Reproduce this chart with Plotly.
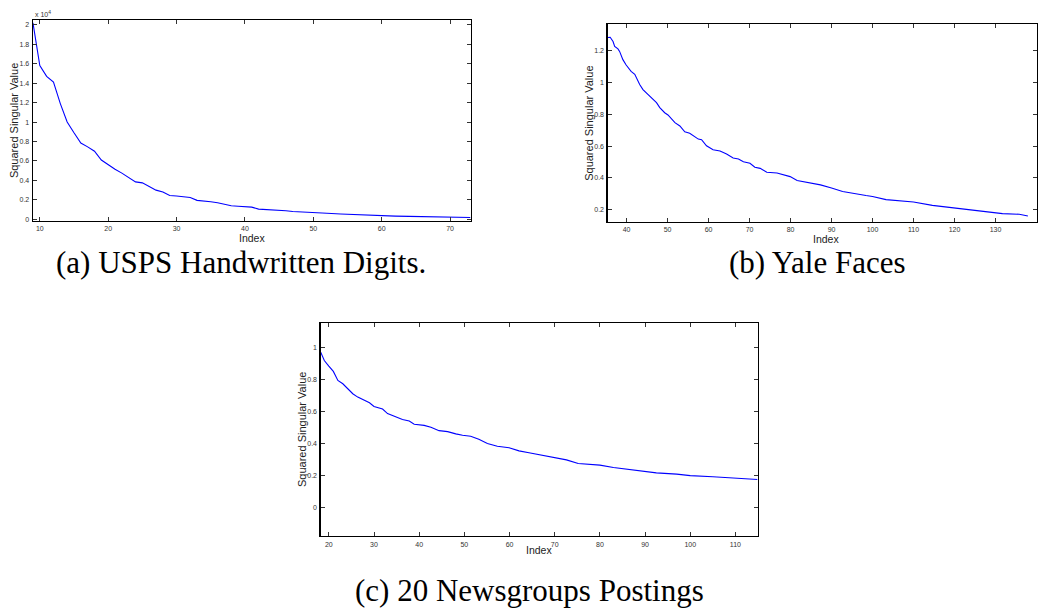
import plotly.graph_objects as go

# ---------------- data ----------------
# (a) USPS Handwritten Digits (values in units of 1e4)
usps_index = [9, 10, 11, 12, 13, 14, 15, 16, 17, 18, 19, 20, 21, 22, 23, 24, 25, 26, 27, 28,
              29, 30, 31, 32, 33, 34, 35, 36, 37, 38, 39, 40, 41, 42, 43, 44, 45, 46, 47, 48,
              50, 52, 54, 56, 58, 60, 62, 64, 66, 68, 70, 72, 73]
usps_value = [2.02, 1.58, 1.47, 1.41, 1.19, 1.00, 0.89, 0.785, 0.745, 0.70, 0.61, 0.56, 0.515,
              0.475, 0.43, 0.385, 0.375, 0.335, 0.30, 0.28, 0.245, 0.24, 0.235, 0.225, 0.195,
              0.19, 0.18, 0.17, 0.155, 0.14, 0.135, 0.13, 0.125, 0.105, 0.102, 0.098, 0.092,
              0.088, 0.08, 0.075, 0.068, 0.062, 0.055, 0.048, 0.042, 0.036, 0.033, 0.03, 0.028,
              0.026, 0.024, 0.02, 0.018]

# (b) Yale Faces
yale_index = [35.4, 36.0, 36.7, 37.1, 37.9, 38.3, 39.1, 39.9, 41.1, 42.0, 43.2, 44.0, 45.2, 47.3,
              48.1, 49.3, 50.1, 51.8, 53.0, 54.2, 55.4, 56.2, 57.5, 58.3, 59.5, 61.1, 62.8, 64.4,
              66.0, 67.3, 68.5, 70.1, 71.3, 72.6, 74.2, 76.7, 79.9, 81.6, 84.0, 87.3, 90.0, 92.7,
              98.4, 100.0, 103.3, 110.0, 114.6, 120.0, 122.8, 127.6, 131.7, 135.8, 137.9]
yale_value = [1.283, 1.285, 1.258, 1.227, 1.212, 1.196, 1.144, 1.11, 1.07, 1.052, 0.988, 0.956,
              0.925, 0.873, 0.842, 0.81, 0.796, 0.748, 0.727, 0.69, 0.681, 0.665, 0.644, 0.64,
              0.602, 0.577, 0.569, 0.55, 0.525, 0.519, 0.502, 0.492, 0.467, 0.46, 0.435, 0.431,
              0.408, 0.383, 0.373, 0.356, 0.336, 0.314, 0.289, 0.283, 0.263, 0.248, 0.227, 0.21,
              0.202, 0.19, 0.175, 0.171, 0.16]

# (c) 20 Newsgroups Postings
news_index = [18.2, 19.0, 20.0, 21.0, 22.0, 23.1, 24.2, 25.3, 26.4, 27.5, 29.0, 30.0, 31.9, 33.0,
              34.5, 36.3, 37.8, 38.9, 41.1, 42.6, 44.4, 46.3, 48.1, 49.6, 51.4, 53.2, 55.1, 57.3,
              59.9, 62.1, 64.3, 66.5, 67.5, 70.0, 72.6, 75.2, 80.0, 83.0, 87.4, 90.0, 92.5, 97.0,
              100.0, 105.0, 110.0, 114.9]
news_value = [0.969, 0.917, 0.882, 0.849, 0.793, 0.772, 0.741, 0.71, 0.689, 0.673, 0.654, 0.631,
              0.615, 0.586, 0.569, 0.549, 0.54, 0.52, 0.513, 0.501, 0.48, 0.474, 0.46, 0.451,
              0.445, 0.426, 0.40, 0.383, 0.373, 0.354, 0.342, 0.331, 0.327, 0.311, 0.298, 0.275,
              0.265, 0.25, 0.234, 0.228, 0.217, 0.209, 0.20, 0.193, 0.184, 0.176]

captions = ["(a) USPS Handwritten Digits.", "(b) Yale Faces", "(c) 20 Newsgroups Postings"]
y_title = "Squared Singular Value"
x_title = "Index"

usps_yticks = [0, 0.2, 0.4, 0.6, 0.8, 1, 1.2, 1.4, 1.6, 1.8, 2]
usps_ytext = ["0", "0.2", "0.4", "0.6", "0.8", "1", "1.2", "1.4", "1.6", "1.8", "2"]
yale_yticks = [0.2, 0.4, 0.6, 0.8, 1, 1.2]
news_yticks = [0, 0.2, 0.4, 0.6, 0.8, 1]

# ---------------- layout geometry (pixels) ----------------
W, H = 1038, 612


def xd(a, b):
    return [a / W, b / W]


def yd(top, bottom):
    return [1 - bottom / H, 1 - top / H]


BLUE = "#0000ff"
fig = go.Figure()
fig.add_trace(go.Scatter(x=usps_index, y=usps_value, mode="lines",
                         line=dict(color=BLUE, width=1.1), xaxis="x", yaxis="y", showlegend=False))
fig.add_trace(go.Scatter(x=yale_index, y=yale_value, mode="lines",
                         line=dict(color=BLUE, width=1.1), xaxis="x2", yaxis="y2", showlegend=False))
fig.add_trace(go.Scatter(x=news_index, y=news_value, mode="lines",
                         line=dict(color=BLUE, width=1.1), xaxis="x3", yaxis="y3", showlegend=False))

tickfont = dict(family="Liberation Sans, Arial, sans-serif", size=7, color="#333")
common = dict(showline=True, linecolor="black", linewidth=1.3, mirror="ticks",
              ticks="inside", ticklen=4, tickwidth=1, tickcolor="#333",
              showgrid=False, zeroline=False, tickfont=tickfont)

fig.update_layout(
    width=W, height=H,
    margin=dict(l=0, r=0, t=0, b=0),
    paper_bgcolor="white", plot_bgcolor="white",
    xaxis=dict(domain=xd(33, 471), range=[9, 73], tickvals=[10, 20, 30, 40, 50, 60, 70],
               anchor="y", ticklabelstandoff=1, **common),
    yaxis=dict(domain=yd(20, 221.5), range=[-0.015, 2.05], tickvals=usps_yticks,
               ticktext=usps_ytext, anchor="x", ticklabelstandoff=1, **common),
    xaxis2=dict(domain=xd(608.3, 1037.5), range=[35.4, 140],
                tickvals=[40, 50, 60, 70, 80, 90, 100, 110, 120, 130, 140],
                anchor="y2", ticklabelstandoff=1, **common),
    yaxis2=dict(domain=yd(24.3, 222.3), range=[0.125, 1.367], tickvals=yale_yticks,
                anchor="x2", ticklabelstandoff=1, **common),
    xaxis3=dict(domain=xd(321, 758.3), range=[18.2, 114.9],
                tickvals=[20, 30, 40, 50, 60, 70, 80, 90, 100, 110],
                anchor="y3", ticklabelstandoff=1, **common),
    yaxis3=dict(domain=yd(324, 537.7), range=[-0.176, 1.151], tickvals=news_yticks,
                anchor="x3", ticklabelstandoff=1, **common),
)

labfont = dict(family="Liberation Sans, Arial, sans-serif", size=11, color="#222")
xlabfont = dict(family="Liberation Sans, Arial, sans-serif", size=10.5, color="#222")
capfont = dict(family="Liberation Serif, Times New Roman, serif", size=31, color="black")
ann = []


def px(x, y, text, font, angle=0, xanchor="center", yanchor="middle"):
    ann.append(dict(x=x / W, y=1 - y / H, xref="paper", yref="paper", text=text,
                    showarrow=False, font=font, textangle=angle,
                    xanchor=xanchor, yanchor=yanchor))


# axis titles
px(14, 120.5, y_title, labfont, angle=-90)
px(252, 238.5, x_title, xlabfont)
px(589.5, 123.3, y_title, labfont, angle=-90)
px(827, 239.5, x_title, xlabfont)
px(301.7, 431, y_title, labfont, angle=-90)
px(540, 551.5, x_title, xlabfont)
# exponent marker
px(33, 14, "x 10<sup>4</sup>", dict(family="Liberation Sans, Arial, sans-serif", size=7, color="#333"),
   xanchor="left")
# captions
px(241, 263, captions[0], capfont)
px(818, 263, captions[1], capfont)
px(530, 592, captions[2], capfont)

fig.update_layout(annotations=ann)
fig.write_html("out.html", config={"displayModeBar": False, "staticPlot": True})

# remove the browser's default page margin so the figure sits at (0, 0)
with open("out.html", "r", encoding="utf-8") as f:
    html = f.read()
html = html.replace("<head>", "<head><style>html,body{margin:0;padding:0;overflow:hidden;}</style>", 1)
with open("out.html", "w", encoding="utf-8") as f:
    f.write(html)
